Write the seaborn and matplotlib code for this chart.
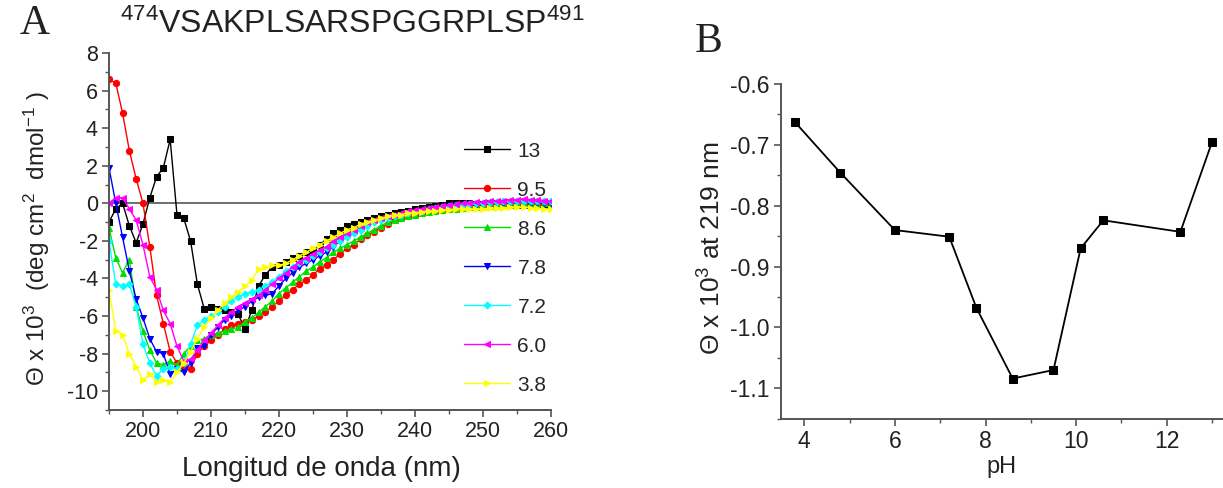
import numpy as np
import pandas as pd
import matplotlib
matplotlib.use("Agg")
import matplotlib.pyplot as plt
from matplotlib.ticker import MultipleLocator, FormatStrFormatter
import seaborn as sns

# --- datos panel A: elipticidad vs longitud de onda (195-260 nm, cada 1 nm) ---
wavelength = list(range(195, 261))

ph_13 = [-1.0, -0.3, 0.0, -1.2, -2.1, -1.1, 0.3, 1.4, 1.9, 3.4,
         -0.6, -0.8, -2.0, -4.3, -5.6, -5.5, -5.6, -5.7, -5.8, -5.9,
         -6.7, -5.7, -4.4, -3.8, -3.4, -3.3, -3.1, -2.9, -2.8, -2.6,
         -2.5, -2.2, -1.9, -1.6, -1.4, -1.2, -1.1, -1.0, -0.9, -0.8,
         -0.7, -0.6, -0.5, -0.45, -0.4, -0.3, -0.25, -0.2, -0.15, -0.1,
         0.0, 0.0, 0.0, 0.0, -0.05, -0.05, -0.05, -0.1, -0.1, -0.1,
         -0.1, -0.1, -0.1, -0.1, -0.1, -0.1]
ph_95 = [6.6, 6.4, 4.8, 2.8, 1.3, 0.0, -2.3, -4.9, -6.4, -7.9,
         -8.5, -8.7, -8.8, -8.0, -7.6, -7.3, -7.0, -6.7, -6.5, -6.4,
         -6.3, -6.2, -6.0, -5.8, -5.5, -5.2, -4.9, -4.6, -4.3, -4.1,
         -3.8, -3.5, -3.3, -3.0, -2.7, -2.4, -2.2, -1.9, -1.7, -1.5,
         -1.3, -1.1, -0.9, -0.8, -0.7, -0.6, -0.5, -0.45, -0.4, -0.35,
         -0.3, -0.3, -0.25, -0.2, -0.2, -0.2, -0.15, -0.15, -0.1, -0.1,
         -0.1, -0.05, 0.0, 0.0, 0.0, 0.0]
ph_86 = [-1.3, -2.9, -3.7, -3.0, -5.5, -6.8, -7.8, -8.5, -8.6, -8.4,
         -8.6, -8.0, -7.6, -7.3, -7.2, -7.0, -6.9, -6.8, -6.7, -6.6,
         -6.3, -6.1, -5.8, -5.5, -5.2, -4.8, -4.5, -4.2, -3.9, -3.6,
         -3.4, -3.1, -2.9, -2.6, -2.4, -2.2, -2.0, -1.8, -1.6, -1.4,
         -1.2, -1.0, -0.9, -0.8, -0.7, -0.6, -0.5, -0.45, -0.4, -0.35,
         -0.3, -0.3, -0.25, -0.2, -0.2, -0.15, -0.15, -0.1, -0.1, -0.1,
         -0.05, 0.0, 0.0, 0.0, 0.0, 0.0]
ph_78 = [1.9, 0.0, -1.8, -3.6, -5.1, -6.1, -7.2, -7.9, -8.0, -9.1,
         -8.8, -9.0, -8.5, -7.7, -7.6, -7.0, -6.6, -6.2, -6.0, -5.7,
         -5.5, -5.2, -5.0, -4.9, -4.8, -4.4, -4.0, -3.7, -3.4, -3.2,
         -3.0, -2.8, -2.6, -2.3, -2.0, -1.8, -1.6, -1.4, -1.2, -1.0,
         -0.9, -0.8, -0.7, -0.6, -0.5, -0.45, -0.4, -0.35, -0.3, -0.25,
         -0.2, -0.2, -0.15, -0.1, -0.1, -0.05, 0.0, 0.0, 0.0, 0.05,
         0.05, 0.05, 0.0, 0.0, 0.0, 0.0]
ph_72 = [-2.0, -4.3, -4.4, -4.3, -5.5, -7.5, -8.5, -9.2, -8.8, -8.7,
         -8.8, -8.5, -7.5, -6.5, -6.2, -6.0, -5.8, -5.5, -5.2, -5.0,
         -4.8, -4.7, -4.6, -4.4, -4.2, -3.9, -3.6, -3.4, -3.2, -3.0,
         -2.8, -2.6, -2.4, -2.2, -2.0, -1.8, -1.6, -1.4, -1.2, -1.0,
         -0.9, -0.8, -0.7, -0.6, -0.5, -0.45, -0.4, -0.3, -0.25, -0.2,
         -0.15, -0.1, -0.1, -0.05, 0.0, 0.0, 0.05, 0.05, 0.1, 0.1,
         0.1, 0.15, 0.15, 0.1, 0.1, 0.1]
ph_60 = [0.0, 0.3, 0.3, -0.3, -0.9, -2.2, -3.9, -4.6, -5.7, -6.4,
         -7.6, -8.4, -8.3, -7.8, -7.3, -6.9, -6.5, -6.1, -5.8, -5.5,
         -5.3, -5.1, -4.9, -4.6, -4.3, -4.0, -3.7, -3.4, -3.1, -2.9,
         -2.7, -2.5, -2.3, -2.0, -1.8, -1.6, -1.4, -1.2, -1.0, -0.9,
         -0.8, -0.7, -0.6, -0.5, -0.4, -0.35, -0.3, -0.25, -0.2, -0.15,
         -0.1, -0.05, 0.0, 0.0, 0.05, 0.05, 0.1, 0.1, 0.15, 0.2,
         0.2, 0.25, 0.2, 0.2, 0.15, 0.1]
ph_38 = [-4.6, -6.8, -7.0, -8.0, -8.7, -9.4, -9.1, -9.5, -9.4, -9.5,
         -9.0, -8.5, -7.9, -7.2, -6.6, -6.1, -5.7, -5.3, -5.0, -4.7,
         -4.4, -4.1, -3.5, -3.4, -3.3, -3.3, -3.2, -3.0, -2.8, -2.6,
         -2.4, -2.2, -2.0, -1.8, -1.6, -1.4, -1.3, -1.1, -1.0, -0.9,
         -0.8, -0.7, -0.6, -0.6, -0.5, -0.5, -0.45, -0.4, -0.4, -0.35,
         -0.35, -0.3, -0.3, -0.3, -0.3, -0.3, -0.25, -0.25, -0.25, -0.2,
         -0.2, -0.2, -0.25, -0.25, -0.3, -0.3]

series_labels = ["13", "9.5", "8.6", "7.8", "7.2", "6.0", "3.8"]
series_values = [ph_13, ph_95, ph_86, ph_78, ph_72, ph_60, ph_38]
series_colors = ["#000000", "#ff0000", "#00e000", "#0000ff", "#00ffff", "#ff00ff", "#ffff00"]
series_markers = ["s", "o", "^", "v", "D", "<", ">"]

# --- datos panel B: elipticidad a 219 nm vs pH ---
ph_values = [3.8, 4.8, 6.0, 7.2, 7.8, 8.6, 9.5, 10.1, 10.6, 12.3, 13.0]
theta_219 = [-0.663, -0.746, -0.840, -0.851, -0.968, -1.084, -1.070, -0.870, -0.824, -0.843, -0.695]

sns.set_style("ticks")
plt.rcParams["font.family"] = ["Liberation Sans", "DejaVu Sans"]
plt.rcParams["axes.unicode_minus"] = False
plt.rcParams["mathtext.fontset"] = "custom"
plt.rcParams["mathtext.rm"] = "Liberation Sans"
plt.rcParams["mathtext.it"] = "Liberation Sans:italic"

spine_col = "#555555"
text_col = "#222222"

fig = plt.figure(figsize=(12.23, 4.88), dpi=100)
axA = fig.add_axes([0.0891, 0.1598, 0.3614, 0.7316])
axB = fig.add_axes([0.6383, 0.142, 0.3617, 0.6859])

# Panel A
axA.axhline(0, color="#6e6e6e", lw=1.4, zorder=1)
for lab, vals, col, mk in zip(series_labels, series_values, series_colors, series_markers):
    ms = 3.5 if mk == "D" else 4.5
    sns.lineplot(x=wavelength, y=vals, ax=axA, color=col, marker=mk, markersize=ms,
                 markeredgecolor=col, lw=1.0, label=lab, sort=False)

axA.set_xlim(195, 260)
axA.set_ylim(-11, 8)
axA.xaxis.set_major_locator(MultipleLocator(10))
axA.xaxis.set_minor_locator(MultipleLocator(5))
axA.yaxis.set_major_locator(MultipleLocator(2))
axA.yaxis.set_minor_locator(MultipleLocator(1))
axA.set_xlabel("Longitud de onda (nm)", fontsize=20, color=text_col)
axA.xaxis.set_label_coords(0.48, -0.128)
axA.set_ylabel(r"$\Theta$ x 10$^3$  (deg cm$^2$  dmol$^{-1}$ )", fontsize=17.5, color=text_col)
axA.yaxis.set_label_coords(-0.128, 0.48)
axA.legend(loc="upper left", bbox_to_anchor=(0.785, 0.775), frameon=False, fontsize=15,
           handlelength=2.2, labelspacing=0.96, handletextpad=0.35, borderaxespad=0)

# Panel B
sns.lineplot(x=ph_values, y=theta_219, ax=axB, color="black", marker="s", markersize=6,
             markeredgecolor="black", lw=1.3, sort=False)
axB.set_xlim(3.48, 13.24)
axB.set_ylim(-1.15, -0.6)
axB.xaxis.set_major_locator(MultipleLocator(2))
axB.xaxis.set_minor_locator(MultipleLocator(1))
axB.yaxis.set_major_locator(MultipleLocator(0.1))
axB.yaxis.set_minor_locator(MultipleLocator(0.05))
axB.yaxis.set_major_formatter(FormatStrFormatter("%.1f"))
axB.set_xlabel("pH", fontsize=17, color=text_col)
axB.xaxis.set_label_coords(0.5, -0.112)
axB.set_ylabel(r"$\Theta$ x 10$^3$ at 219 nm", fontsize=19, color=text_col)
axB.yaxis.set_label_coords(-0.125, 0.51)

for ax, fs in [(axA, 15.5), (axB, 16.5)]:
    sns.despine(ax=ax)
    for s in ["left", "bottom"]:
        ax.spines[s].set_color(spine_col)
        ax.spines[s].set_linewidth(1.4)
    ax.tick_params(which="major", length=5, width=1.2, color=spine_col, labelsize=fs,
                   labelcolor=text_col, pad=3)
    ax.tick_params(which="minor", length=3, width=1.0, color=spine_col)

# Textos de panel
fig.text(0.016, 0.952, "A", fontsize=30, family="Liberation Serif", va="center", color=text_col)
fig.text(0.568, 0.915, "B", fontsize=30, family="Liberation Serif", va="center", color=text_col)
fig.text(0.098, 0.95, r"$^{474}$VSAKPLSARSPGGRPLSP$^{491}$", fontsize=23, va="center", color=text_col)

fig.savefig("out.png", dpi=100)
